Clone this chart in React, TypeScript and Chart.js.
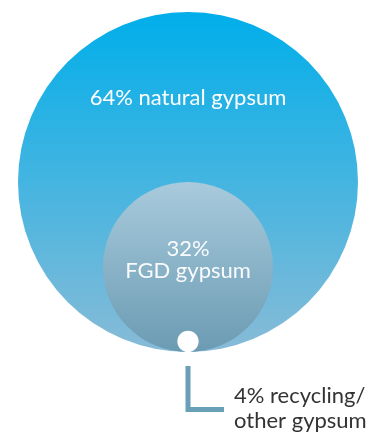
import React, { useEffect, useRef } from "react";
import { Chart, registerables } from "chart.js";

Chart.register(...registerables);

// Data
const categories = ["natural gypsum", "FGD gypsum", "recycling/other gypsum"];
const shares = [64, 32, 4];
const labelLines = [["64% natural gypsum"], ["32%", "FGD gypsum"], ["4% recycling/", "other gypsum"]];
const topColors = ["#00aeea", "#a8cadc", "#ffffff"];
const bottomColors = ["#88bbd7", "#6b9bb3", "#ffffff"];

const W = 371;
const H = 432;
const centerX = 188;
const baseY = 352;
const pxPerShare = 170 / 64;

const gradientPlugin = {
  id: "gradients",
  beforeDatasetsDraw(chart: any) {
    const meta = chart.getDatasetMeta(0);
    meta.data.forEach((el: any, i: number) => {
      const r = el.options.radius;
      const top = el.y - r;
      const bottom = el.y + r;
      if (!isFinite(top) || !isFinite(bottom)) return;
      const g = chart.ctx.createLinearGradient(0, top, 0, bottom);
      g.addColorStop(0, topColors[i]);
      g.addColorStop(1, bottomColors[i]);
      el.options.backgroundColor = g;
    });
  },
};

const calloutPlugin = {
  id: "callout",
  afterDatasetsDraw(chart: any) {
    const { ctx, scales } = chart;
    const xs = scales.x;
    const ys = scales.y;
    const cx = xs.getPixelForValue(centerX);
    const base = ys.getPixelForValue(baseY);
    const r0 = shares[0] * pxPerShare;
    const r1 = shares[1] * pxPerShare;
    ctx.save();
    ctx.fillStyle = "#ffffff";
    ctx.textAlign = "center";
    ctx.textBaseline = "alphabetic";
    ctx.font = "22px Lato, 'Open Sans', sans-serif";
    ctx.fillText(labelLines[0][0], cx, base - 2 * r0 + 93);
    ctx.fillStyle = "rgba(255,255,255,0.95)";
    ctx.fillText(labelLines[1][0], cx, base - r1 - 11);
    ctx.fillText(labelLines[1][1], cx, base - r1 + 11);
    ctx.strokeStyle = "#6a9fb8";
    ctx.lineWidth = 5;
    ctx.lineJoin = "miter";
    ctx.lineCap = "butt";
    ctx.beginPath();
    ctx.moveTo(cx, base + 14);
    ctx.lineTo(cx, base + 57.5);
    ctx.lineTo(cx + 36, base + 57.5);
    ctx.stroke();
    ctx.fillStyle = "#333333";
    ctx.textAlign = "left";
    ctx.fillText(labelLines[2][0], cx + 46, base + 51);
    ctx.fillText(labelLines[2][1], cx + 46, base + 76);
    ctx.restore();
  },
};

export default function App() {
  const ref = useRef<HTMLCanvasElement | null>(null);
  useEffect(() => {
    if (!ref.current) return;
    const chart = new Chart(ref.current, {
      type: "bubble",
      data: {
        labels: categories,
        datasets: [
          {
            label: "Gypsum sources",
            data: shares.map((s) => ({ x: centerX, y: baseY - s * pxPerShare, r: s * pxPerShare })),
            backgroundColor: topColors,
            borderWidth: 0,
            hoverBorderWidth: 0,
            clip: false,
          },
        ],
      },
      options: {
        animation: false,
        responsive: true,
        maintainAspectRatio: false,
        events: [],
        layout: { padding: 0, autoPadding: false },
        plugins: { legend: { display: false }, tooltip: { enabled: false } },
        scales: {
          x: { type: "linear", min: 0, max: W, display: false },
          y: { type: "linear", min: 0, max: H, reverse: true, display: false },
        },
      },
      plugins: [gradientPlugin, calloutPlugin],
    });
    return () => chart.destroy();
  }, []);
  return (
    <div style={{ position: "fixed", left: 0, top: 0, width: W, height: H, background: "#ffffff" }}>
      <canvas ref={ref} />
    </div>
  );
}
